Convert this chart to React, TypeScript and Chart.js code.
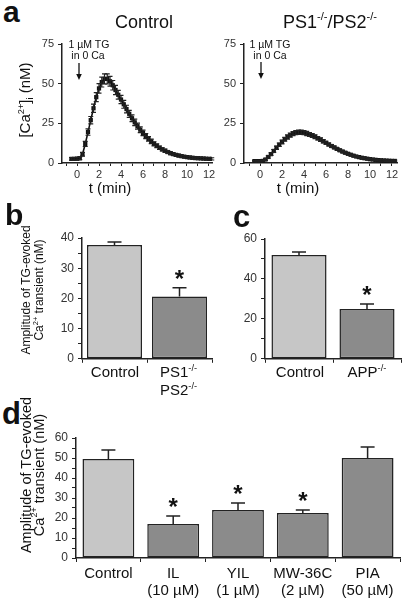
import React, { useEffect, useRef } from "react";
import { Chart, registerables } from "chart.js";

Chart.register(...registerables);

const FONT = "'Liberation Sans', Arial, Helvetica, sans-serif";
Chart.defaults.font.family = FONT;
Chart.defaults.color = "#333";

// ---------- Panel a: Ca2+ transients (nM) vs time (min) ----------
const timeMin = [
  -0.5, -0.25, 0, 0.25, 0.5, 0.75, 1, 1.25, 1.5, 1.75, 2, 2.25, 2.5, 2.75, 3, 3.25, 3.5, 3.75, 4, 4.25,
  4.5, 4.75, 5, 5.25, 5.5, 5.75, 6, 6.25, 6.5, 6.75, 7, 7.25, 7.5, 7.75, 8, 8.25, 8.5, 8.75, 9, 9.25,
  9.5, 9.75, 10, 10.25, 10.5, 10.75, 11, 11.25, 11.5, 11.75, 12, 12.25,
];
const controlCa = [
  2.6, 2.6, 2.7, 3.0, 5.5, 12, 19.5, 27, 34.5, 41.5, 47, 51, 53, 53, 51.5, 49, 46, 43, 40, 37,
  34, 31, 28.2, 25.6, 23.2, 21, 19, 17, 15.2, 13.6, 12.1, 10.8, 9.6, 8.6, 7.7, 6.9, 6.2, 5.6, 5.1, 4.7,
  4.3, 4.0, 3.7, 3.5, 3.3, 3.1, 3.0, 2.9, 2.8, 2.7, 2.6, 2.6,
];
const controlSem = [
  0.8, 0.8, 0.8, 0.9, 1.2, 1.6, 2.0, 2.3, 2.6, 2.8, 3.0, 3.1, 3.2, 3.2, 3.1, 3.0, 2.9, 2.8, 2.6, 2.5,
  2.4, 2.2, 2.1, 2.0, 1.9, 1.8, 1.7, 1.6, 1.5, 1.4, 1.3, 1.2, 1.1, 1.0, 1.0, 0.9, 0.9, 0.8, 0.8, 0.8,
  0.7, 0.7, 0.7, 0.7, 0.7, 0.7, 0.7, 0.7, 0.7, 0.7, 0.7, 0.7,
];
const psCa = [
  1.2, 1.2, 1.2, 1.3, 2.2, 3.8, 5.6, 7.6, 9.6, 11.5, 13.3, 15, 16.4, 17.6, 18.5, 19.1, 19.4, 19.4, 19.1, 18.6,
  18, 17.3, 16.5, 15.6, 14.7, 13.7, 12.7, 11.7, 10.7, 9.8, 8.9, 8.0, 7.2, 6.5, 5.8, 5.2, 4.6, 4.1, 3.7, 3.3,
  3.0, 2.7, 2.4, 2.2, 2.0, 1.8, 1.7, 1.6, 1.5, 1.4, 1.3, 1.3,
];
const psSem = [
  0.5, 0.5, 0.5, 0.5, 0.6, 0.7, 0.8, 0.9, 1.0, 1.1, 1.2, 1.2, 1.3, 1.3, 1.3, 1.3, 1.3, 1.3, 1.3, 1.3,
  1.2, 1.2, 1.2, 1.1, 1.1, 1.0, 1.0, 0.9, 0.9, 0.8, 0.8, 0.7, 0.7, 0.7, 0.6, 0.6, 0.6, 0.5, 0.5, 0.5,
  0.5, 0.5, 0.5, 0.5, 0.5, 0.5, 0.5, 0.5, 0.5, 0.5, 0.5, 0.5,
];
const aYMax = 75;
const aYStep = 25;
const aLeftXRange = [-1.364, 12.273];
const aRightXRange = [-1.455, 12.455];

// ---------- Panel b ----------
const bCategories = ["Control", "PS1-/-/PS2-/-"];
const bValues = [37.7, 20.6];
const bSem = [1.0, 2.9];
const bSig = [false, true];
const bYMax = 40;

// ---------- Panel c ----------
const cCategories = ["Control", "APP-/-"];
const cValues = [52.0, 25.0];
const cSem = [1.5, 2.5];
const cSig = [false, true];
const cYMax = 60;

// ---------- Panel d ----------
const dCategories = [["Control"], ["IL", "(10 µM)"], ["YIL", "(1 µM)"], ["MW-36C", "(2 µM)"], ["PIA", "(50 µM)"]];
const dValues = [49.5, 17.0, 24.0, 22.5, 50.0];
const dSem = [4.5, 4.0, 3.5, 1.5, 5.5];
const dSig = [false, true, true, true, false];
const dYMax = 60;

const LIGHT = "#c6c6c6";
const DARK = "#8b8b8b";
const INK = "#222";

type Box = { x: number; y: number; w: number; h: number };
type Area = { l: number; t: number; r: number; b: number };

function frame(box: Box, area: Area) {
  return {
    padding: { left: 0, top: area.t - box.y, right: box.x + box.w - area.r, bottom: 0 },
    yWidth: area.l - box.x,
    xHeight: box.y + box.h - area.b,
  };
}

const errorBarPlugin = {
  id: "errorBars",
  afterDatasetsDraw(chart: any) {
    const ctx = chart.ctx;
    chart.data.datasets.forEach((ds: any, di: number) => {
      if (!ds.errors) return;
      const meta = chart.getDatasetMeta(di);
      const ys = chart.scales[meta.yAxisID];
      ctx.save();
      ctx.strokeStyle = ds.errorColor || INK;
      ctx.lineWidth = ds.errorWidth || 1.5;
      const cap = ds.errorCap ?? 6;
      meta.data.forEach((el: any, i: number) => {
        const raw = ds.data[i];
        const v = typeof raw === "number" ? raw : raw.y;
        const e = ds.errors[i];
        const x = el.x;
        const yTop = ys.getPixelForValue(v + e);
        const yBot = ds.errorBoth ? ys.getPixelForValue(v - e) : ys.getPixelForValue(v);
        ctx.beginPath();
        ctx.moveTo(x, yBot);
        ctx.lineTo(x, yTop);
        ctx.moveTo(x - cap, yTop);
        ctx.lineTo(x + cap, yTop);
        if (ds.errorBoth) {
          ctx.moveTo(x - cap, yBot);
          ctx.lineTo(x + cap, yBot);
        }
        ctx.stroke();
        if (ds.sig && ds.sig[i]) {
          const fs = 24;
          ctx.fillStyle = "#111";
          ctx.font = `bold ${fs}px ${FONT}`;
          ctx.textAlign = "center";
          ctx.textBaseline = "alphabetic";
          ctx.fillText("*", x, yTop - 15 + 0.57 * fs);
        }
      });
      ctx.restore();
    });
  },
};

function axisCommon() {
  return {
    border: { display: true, color: INK, width: 1.5 },
    grid: { drawOnChartArea: false, drawTicks: true, tickLength: 4, tickColor: INK, tickWidth: 1 },
  };
}

function lineConfig(ca: number[], sem: number[], xr: number[], box: Box, area: Area) {
  const f = frame(box, area);
  return {
    type: "line",
    data: {
      datasets: [
        {
          data: timeMin.map((t, i) => ({ x: t, y: ca[i] })),
          errors: sem,
          errorBoth: true,
          errorCap: 2.5,
          errorWidth: 1.2,
          borderColor: "#111",
          borderWidth: 1.6,
          pointStyle: "rect",
          pointRadius: 3,
          pointBackgroundColor: "#111",
          pointBorderWidth: 0,
          showLine: true,
          tension: 0,
        },
      ],
    },
    options: {
      animation: false,
      responsive: false,
      events: [],
      layout: { padding: f.padding },
      plugins: { legend: { display: false }, tooltip: { enabled: false }, title: { display: false } },
      scales: {
        x: {
          type: "linear",
          min: xr[0],
          max: xr[1],
          afterFit: (s: any) => {
            s.height = f.xHeight;
          },
          ...axisCommon(),
          grid: { drawOnChartArea: false, drawTicks: true, tickLength: 3, tickColor: INK, tickWidth: 1 },
          ticks: {
            stepSize: 1,
            includeBounds: false,
            autoSkip: false,
            maxRotation: 0,
            minRotation: 0,
            padding: 2,
            color: "#333",
            font: { size: 11 },
            callback: (v: any) => (v >= 0 && Math.abs(v % 2) < 1e-6 ? String(Math.round(v)) : ""),
          },
        },
        y: {
          type: "linear",
          min: 0,
          max: aYMax,
          afterFit: (s: any) => {
            s.width = f.yWidth;
          },
          ...axisCommon(),
          ticks: { stepSize: aYStep, autoSkip: false, padding: 4, color: "#333", font: { size: 11 } },
        },
      },
    },
    plugins: [errorBarPlugin],
  };
}

function barConfig(
  labels: any[],
  values: number[],
  sem: number[],
  sig: boolean[],
  yMax: number,
  majorStep: number,
  minorStep: number,
  showLabels: boolean,
  barPct: number,
  box: Box,
  area: Area
) {
  const f = frame(box, area);
  return {
    type: "bar",
    data: {
      labels,
      datasets: [
        {
          data: values,
          errors: sem,
          sig,
          errorCap: 7,
          errorWidth: 1.5,
          backgroundColor: values.map((_, i) => (i === 0 ? LIGHT : DARK)),
          borderColor: INK,
          borderWidth: 1.5,
          borderSkipped: false,
          barPercentage: barPct,
          categoryPercentage: 1,
        },
      ],
    },
    options: {
      animation: false,
      responsive: false,
      events: [],
      layout: { padding: f.padding },
      plugins: { legend: { display: false }, tooltip: { enabled: false }, title: { display: false } },
      scales: {
        x: {
          type: "category",
          offset: true,
          afterFit: (s: any) => {
            s.height = f.xHeight;
          },
          border: { display: true, color: INK, width: 1.5 },
          grid: { offset: true, drawOnChartArea: false, drawTicks: true, tickLength: 4, tickColor: INK },
          ticks: {
            display: showLabels,
            autoSkip: false,
            maxRotation: 0,
            minRotation: 0,
            padding: 3,
            color: "#111",
            font: { size: 15, lineHeight: 1.15 },
          },
        },
        y: {
          type: "linear",
          min: 0,
          max: yMax,
          afterFit: (s: any) => {
            s.width = f.yWidth;
          },
          ...axisCommon(),
          ticks: {
            stepSize: minorStep,
            autoSkip: false,
            padding: 4,
            color: "#333",
            font: { size: 12 },
            callback: (v: any) => (Math.abs(v % majorStep) < 1e-6 ? String(v) : ""),
          },
        },
      },
    },
    plugins: [errorBarPlugin],
  };
}

function ChartCanvas({ box, make }: { box: Box; make: () => any }) {
  const ref = useRef<HTMLCanvasElement>(null);
  useEffect(() => {
    const chart = new Chart(ref.current as HTMLCanvasElement, make());
    return () => chart.destroy();
  }, []);
  return (
    <canvas
      ref={ref}
      width={box.w}
      height={box.h}
      style={{ position: "absolute", left: box.x, top: box.y, width: box.w, height: box.h }}
    />
  );
}

const Sup = ({ children }: { children: any }) => (
  <span style={{ fontSize: "0.62em", position: "relative", top: "-0.7em" }}>{children}</span>
);
const Sub = ({ children }: { children: any }) => (
  <span style={{ fontSize: "0.62em", position: "relative", top: "0.35em" }}>{children}</span>
);

function T({
  x,
  base,
  fs,
  bold,
  center,
  children,
}: {
  x: number;
  base: number;
  fs: number;
  bold?: boolean;
  center?: boolean;
  children: any;
}) {
  return (
    <div
      style={{
        position: "absolute",
        left: x,
        top: base - 0.8465 * fs,
        fontSize: fs,
        lineHeight: `${fs}px`,
        fontWeight: bold ? "bold" : "normal",
        whiteSpace: "nowrap",
        transform: center ? "translateX(-50%)" : undefined,
      }}
    >
      {children}
    </div>
  );
}

function VTitle({ cx, cy, fs, lh, children }: { cx: number; cy: number; fs: number; lh: number; children: any }) {
  return (
    <div
      style={{
        position: "absolute",
        left: cx,
        top: cy,
        fontSize: fs,
        lineHeight: `${lh}px`,
        whiteSpace: "nowrap",
        textAlign: "center",
        transform: "translate(-50%, -50%) rotate(-90deg)",
      }}
    >
      {children}
    </div>
  );
}

function Arrow({ x, y1, y2 }: { x: number; y1: number; y2: number }) {
  return (
    <svg style={{ position: "absolute", left: x - 4, top: y1, overflow: "visible" }} width={8} height={y2 - y1}>
      <line x1={4} y1={0} x2={4} y2={y2 - y1 - 5} stroke="#111" strokeWidth={1.3} />
      <polygon points={`1.2,${y2 - y1 - 6} 6.8,${y2 - y1 - 6} 4,${y2 - y1}`} fill="#111" />
    </svg>
  );
}

const aLeftBox: Box = { x: 0, y: 30, w: 218, h: 170 };
const aLeftArea: Area = { l: 62, t: 44, r: 212, b: 163 };
const aRightBox: Box = { x: 182, y: 30, w: 221, h: 170 };
const aRightArea: Area = { l: 244, t: 44, r: 397, b: 163 };
const bBox: Box = { x: 40, y: 225, w: 180, h: 145 };
const bArea: Area = { l: 82, t: 238, r: 212, b: 359 };
const cBox: Box = { x: 225, y: 225, w: 178, h: 145 };
const cArea: Area = { l: 265, t: 239, r: 401, b: 359 };
const dBox: Box = { x: 40, y: 425, w: 363, h: 175 };
const dArea: Area = { l: 76, t: 438, r: 400, b: 558 };

export default function App() {
  return (
    <div
      style={{
        position: "absolute",
        left: 0,
        top: 0,
        width: 403,
        height: 600,
        background: "#fff",
        fontFamily: FONT,
        color: "#111",
        overflow: "hidden",
      }}
    >
      <ChartCanvas box={aLeftBox} make={() => lineConfig(controlCa, controlSem, aLeftXRange, aLeftBox, aLeftArea)} />
      <ChartCanvas box={aRightBox} make={() => lineConfig(psCa, psSem, aRightXRange, aRightBox, aRightArea)} />
      <ChartCanvas
        box={bBox}
        make={() => barConfig(bCategories, bValues, bSem, bSig, bYMax, 10, 5, false, 0.846, bBox, bArea)}
      />
      <ChartCanvas
        box={cBox}
        make={() => barConfig(cCategories, cValues, cSem, cSig, cYMax, 20, 10, false, 0.81, cBox, cArea)}
      />
      <ChartCanvas
        box={dBox}
        make={() => barConfig(dCategories, dValues, dSem, dSig, dYMax, 10, 5, true, 0.8, dBox, dArea)}
      />

      {/* panel letters */}
      <T x={3} base={22} fs={30} bold>a</T>
      <T x={5} base={225} fs={30} bold>b</T>
      <T x={233} base={227} fs={31} bold>c</T>
      <T x={2} base={424} fs={31} bold>d</T>

      {/* panel a titles */}
      <T x={144} base={28} fs={18} center>Control</T>
      <T x={330} base={28} fs={18} center>
        PS1<Sup>-/-</Sup>/PS2<Sup>-/-</Sup>
      </T>

      {/* TG annotations */}
      <T x={89} base={48} fs={10.5} center>1 µM TG</T>
      <T x={88} base={59} fs={10.5} center>in 0 Ca</T>
      <Arrow x={79} y1={63} y2={80} />
      <T x={270} base={48} fs={10.5} center>1 µM TG</T>
      <T x={270} base={59} fs={10.5} center>in 0 Ca</T>
      <Arrow x={261} y1={62} y2={79} />

      {/* panel a axis titles */}
      <VTitle cx={26} cy={100} fs={15} lh={16}>
        [Ca<Sup>2+</Sup>]<Sub>i</Sub> (nM)
      </VTitle>
      <T x={110} base={193} fs={15} center>t (min)</T>
      <T x={298} base={193} fs={15} center>t (min)</T>

      {/* panel b/c/d y titles */}
      <VTitle cx={32.5} cy={290} fs={12} lh={13}>
        Amplitude of TG-evoked
        <br />
        Ca<Sup>2+</Sup> transient (nM)
      </VTitle>
      <VTitle cx={33} cy={475} fs={14.5} lh={12.5}>
        Amplitude of TG-evoked
        <br />
        Ca<Sup>2+</Sup> transient (nM)
      </VTitle>

      {/* panel b categories */}
      <T x={115} base={377} fs={15} center>Control</T>
      <T x={160} base={377} fs={15}>
        PS1<Sup>-/-</Sup>
      </T>
      <T x={160} base={395} fs={15}>
        PS2<Sup>-/-</Sup>
      </T>

      {/* panel c categories */}
      <T x={300} base={377} fs={15} center>Control</T>
      <T x={367} base={377} fs={15} center>
        APP<Sup>-/-</Sup>
      </T>
    </div>
  );
}
